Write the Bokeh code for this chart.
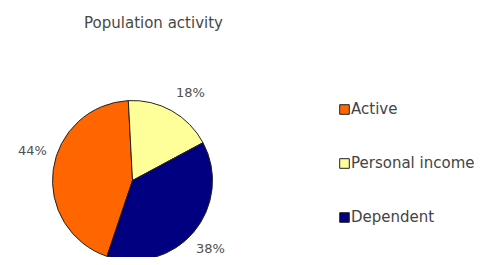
import math
from bokeh.plotting import figure
from bokeh.models import Range1d, Legend, LegendItem, ColumnDataSource
from bokeh.core.properties import value
from bokeh.embed import file_html
from bokeh.resources import INLINE

# ---- data ----
title = "Population activity"
categories = ["Active", "Personal income", "Dependent"]
values = [44, 18, 38]
colors = ["#FF6600", "#FFFF99", "#000080"]
# order of slices clockwise starting from the top
clockwise_order = ["Personal income", "Dependent", "Active"]

W, H = 486, 257
FONT = "DejaVu Sans"

p = figure(width=W, height=H, output_backend="svg", toolbar_location=None,
           x_range=Range1d(0, W), y_range=Range1d(265 - H, 265),
           min_border=0)
p.axis.visible = False
p.grid.visible = False
p.outline_line_color = None
p.background_fill_color = "white"

def Y(page_y):
    return 265 - page_y

cx, cy, r = 132, Y(180), 80
total = sum(values)
start_a, end_a = {}, {}
cur = math.radians(93)
for c in clockwise_order:
    v = values[categories.index(c)]
    span = v / total * 2 * math.pi
    end_a[c] = cur
    start_a[c] = cur - span
    cur -= span

src = ColumnDataSource(dict(
    cat=categories,
    val=values,
    color=colors,
    start=[start_a[c] for c in categories],
    end=[end_a[c] for c in categories],
))
w = p.wedge(x=cx, y=cy, radius=r, start_angle="start", end_angle="end",
            fill_color="color", line_color="#222222", line_width=1, source=src)

# percentage labels
label_pos = {"Active": (32, 150), "Personal income": (190, 92), "Dependent": (210, 248)}
lab_x = [label_pos[c][0] for c in categories]
lab_y = [Y(label_pos[c][1]) for c in categories]
lab_t = [f"{v}%" for v in values]
p.text(x=lab_x, y=lab_y, text=lab_t, text_align="center", text_baseline="middle",
       text_font=value(FONT), text_font_size="13px", text_color="#505050")

# title
p.text(x=[153], y=[Y(22)], text=[title], text_align="center", text_baseline="middle",
       text_font=value(FONT), text_font_size="15px", text_color="#484848")

legend = Legend(items=[LegendItem(label=c, renderers=[w], index=i) for i, c in enumerate(categories)],
                location=(338, 31), orientation="vertical",
                glyph_width=12, glyph_height=12, label_height=12, spacing=36,
                padding=0, margin=0, label_standoff=1,
                label_text_font=FONT, label_text_font_size="15px", label_text_color="#444444",
                border_line_color=None, background_fill_alpha=0)
p.add_layout(legend, "center")

open("out.html", "w").write(file_html(p, INLINE))
